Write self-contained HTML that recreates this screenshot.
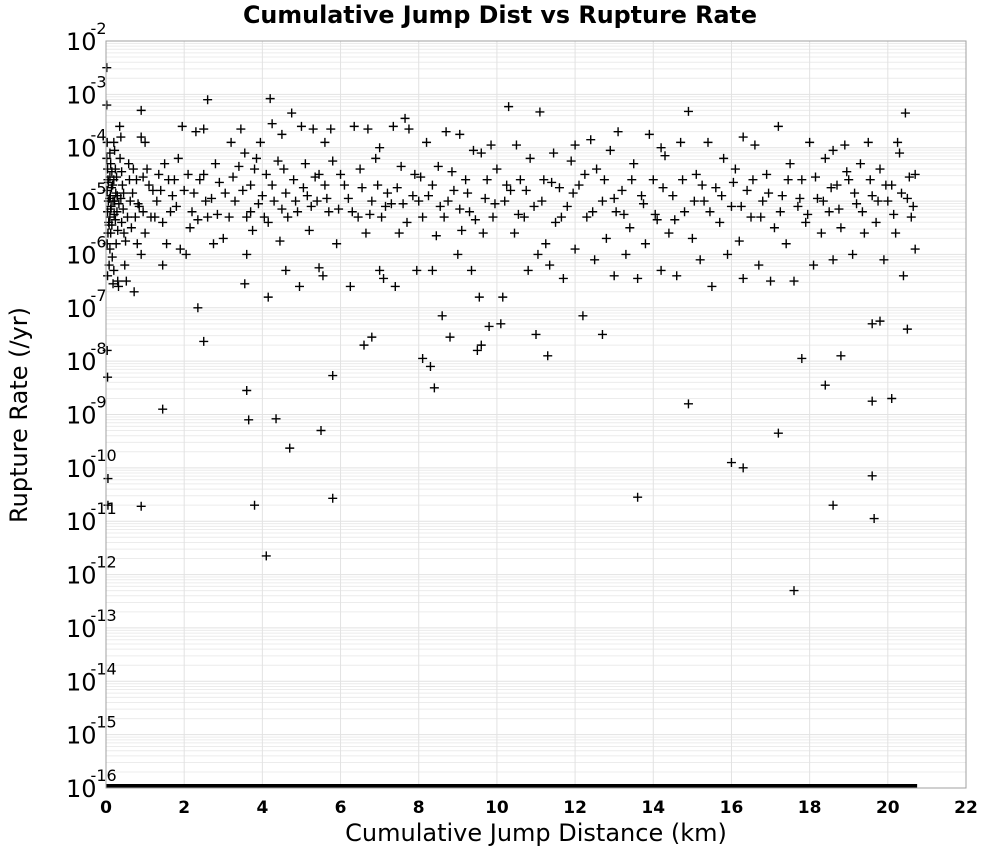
<!DOCTYPE html>
<html><head><meta charset="utf-8">
<style>
html,body{margin:0;padding:0;background:#fff;}
svg{display:block;font-family:"DejaVu Sans","Liberation Sans",sans-serif;}
</style></head>
<body>
<svg id="chart" width="1000" height="850" viewBox="0 0 1000 850">
<text x="500" y="23" text-anchor="middle" font-size="23.8" font-weight="bold">Cumulative Jump Dist vs Rupture Rate</text>
<g id="grid"></g>
<g id="marks"></g>
<rect x="106" y="41" width="860" height="747" fill="none" stroke="#a0a0a0" stroke-width="1"/>
<g id="axes"></g>
<text x="536" y="841" text-anchor="middle" font-size="24">Cumulative Jump Distance (km)</text>
<text x="0" y="0" transform="translate(27,415) rotate(-90)" text-anchor="middle" font-size="24">Rupture Rate (/yr)</text>
</svg>
<script>
const xTicks=[0,2,4,6,8,10,12,14,16,18,20,22];
const yExps=[-2,-3,-4,-5,-6,-7,-8,-9,-10,-11,-12,-13,-14,-15,-16];
const floorRange=[0,20.75];
const floorLog=-16;
// [cumulative jump distance km, log10 rupture rate]
const points=[
[0.02,-2.5],[0.02,-3.2],[0.03,-3.9],[0.02,-4.2],[0.04,-4.4],[0.05,-4.6],[0.03,-4.8],[0.06,-5.0],[0.04,-5.2],[0.07,-5.4],[0.05,-5.6],[0.03,-5.8],[0.08,-6.2],[0.04,-6.4],[0.03,-7.8],[0.04,-8.3],[0.05,-10.2],[0.05,-10.7],
[0.1,-4.1],[0.12,-4.3],[0.1,-4.55],[0.14,-4.75],[0.11,-4.9],[0.13,-5.1],[0.1,-5.3],[0.15,-5.45],[0.12,-5.6],[0.1,-5.9],[0.16,-6.05],[0.2,-6.3],[0.18,-6.55],
[0.2,-3.9],[0.22,-4.05],[0.24,-4.4],[0.2,-4.6],[0.25,-4.85],[0.22,-5.0],[0.28,-5.2],[0.24,-5.35],[0.3,-5.55],[0.26,-5.8],[0.3,-6.5],[0.32,-6.6],
[0.35,-3.6],[0.38,-3.8],[0.36,-4.2],[0.4,-4.45],[0.42,-4.7],[0.38,-4.95],[0.44,-5.15],[0.4,-5.4],[0.46,-5.6],[0.5,-5.75],[0.48,-6.2],[0.52,-6.5],
[0.6,-4.6],[0.62,-5.0],[0.7,-4.4],[0.75,-5.3],[0.8,-5.8],[0.72,-6.7],[0.9,-3.3],[0.9,-3.8],[0.95,-4.55],[0.85,-5.1],[1.0,-5.6],[0.9,-6.0],[0.9,-10.72],
[1.1,-4.7],[1.2,-4.8],[1.25,-5.3],[1.4,-4.8],[1.45,-5.4],[1.5,-4.3],[1.6,-4.6],[1.55,-5.8],[1.45,-6.2],[1.45,-8.9],[1.7,-4.9],[1.8,-5.1],[1.85,-4.2],[1.9,-5.9],[1.95,-3.6],[2.0,-4.8],[2.05,-6.0],
[2.2,-5.2],[2.25,-4.85],[2.35,-5.35],[2.3,-3.7],[2.35,-7.0],[2.5,-7.63],[2.6,-3.1],[2.5,-3.65],[2.5,-4.5],[2.6,-5.3],[2.7,-4.95],[2.75,-5.8],[2.8,-4.3],[2.9,-4.65],[3.0,-5.7],
[3.3,-5.0],[3.4,-4.35],[3.45,-3.65],[3.55,-4.1],[3.6,-5.3],[3.6,-6.0],[3.55,-6.55],[3.6,-8.55],[3.65,-9.1],[3.8,-10.7],[3.7,-4.7],[3.75,-5.55],[3.85,-4.2],[3.9,-5.05],[3.95,-3.9],
[4.1,-4.5],[4.1,-11.65],[4.15,-5.4],[4.15,-6.8],[4.2,-3.08],[4.25,-3.55],[4.3,-5.0],[4.35,-9.08],[4.4,-4.25],[4.45,-5.75],[4.5,-3.75],[4.6,-4.85],[4.6,-6.3],[4.65,-5.3],[4.7,-9.63],[4.75,-3.35],[4.8,-4.6],[4.9,-5.2],[4.95,-6.6],
[5.0,-3.6],[5.1,-4.3],[5.15,-4.9],[5.2,-5.55],[5.3,-3.65],[5.35,-4.55],[5.4,-5.0],[5.45,-6.25],[5.5,-9.3],[5.55,-6.4],[5.6,-4.7],[5.7,-5.2],[5.75,-3.65],[5.8,-4.25],[5.8,-8.27],[5.8,-10.57],[5.9,-5.8],[6.0,-4.5],
[6.2,-4.95],[6.25,-6.6],[6.35,-3.6],[6.45,-5.3],[6.5,-4.4],[6.6,-7.7],[6.65,-5.6],[6.7,-3.65],[6.8,-7.55],[6.8,-5.0],[6.9,-4.2],[7.0,-6.3],[7.05,-5.3],[7.1,-6.45],[7.2,-4.85],[7.3,-5.05],[7.35,-3.6],[7.4,-6.6],[7.5,-5.6],[7.55,-4.35],[7.65,-3.45],[7.7,-5.4],[7.75,-3.65],[7.9,-4.5],[7.95,-6.3],
[8.0,-5.0],[8.1,-7.95],[8.1,-5.3],[8.2,-3.9],[8.25,-4.9],[8.3,-8.1],[8.35,-6.3],[8.4,-8.5],[8.45,-5.65],[8.5,-4.35],[8.6,-7.15],[8.65,-5.3],[8.7,-3.7],[8.75,-5.0],[8.8,-7.55],[8.9,-4.8],[9.0,-6.0],[9.05,-3.75],[9.1,-5.55],
[9.2,-4.6],[9.3,-5.2],[9.35,-6.3],[9.4,-4.05],[9.5,-7.8],[9.55,-6.8],[9.6,-7.7],[9.65,-5.6],[9.7,-4.95],[9.8,-7.35],[9.85,-3.95],[9.9,-5.3],[10.0,-4.4],[10.1,-7.3],[10.15,-6.8],[10.2,-5.0],[10.3,-3.23],[10.35,-4.8],[10.45,-5.6],[10.5,-3.95],
[10.6,-4.6],[10.7,-5.3],[10.8,-6.3],[10.85,-4.2],[10.95,-5.1],[11.0,-7.5],[11.05,-6.0],[11.1,-3.33],[11.2,-4.6],[11.25,-5.8],[11.3,-7.9],[11.35,-6.2],[11.45,-4.1],[11.5,-5.4],[11.6,-4.75],[11.7,-6.45],[11.8,-5.1],[11.9,-4.25],[12.0,-5.9],
[12.1,-4.7],[12.2,-7.15],[12.3,-5.3],[12.4,-3.85],[12.5,-6.1],[12.55,-4.4],[12.7,-7.5],[12.7,-5.0],[12.8,-5.7],[12.9,-4.05],[13.0,-6.4],[13.05,-5.2],[13.1,-3.7],[13.2,-4.8],[13.3,-6.0],[13.4,-5.5],[13.5,-4.3],[13.6,-10.55],[13.6,-6.45],[13.7,-4.9],[13.8,-5.8],[13.9,-3.75],
[14.0,-4.6],[14.1,-5.35],[14.2,-6.3],[14.3,-4.15],[14.4,-5.6],[14.5,-4.9],[14.6,-6.4],[14.7,-3.9],[14.8,-5.2],[14.9,-3.32],[14.9,-8.8],[15.0,-5.7],[15.1,-4.5],[15.2,-6.1],[15.3,-5.0],[15.4,-3.9],[15.5,-6.6],[15.6,-4.75],[15.7,-5.4],[15.8,-4.2],[15.9,-6.0],
[16.0,-9.9],[16.0,-5.1],[16.1,-4.4],[16.2,-5.75],[16.3,-10.0],[16.3,-6.45],[16.4,-4.8],[16.5,-5.3],[16.6,-3.95],[16.7,-6.2],[16.8,-5.0],[16.9,-4.5],[17.0,-6.5],[17.1,-5.5],[17.2,-3.6],[17.2,-9.35],[17.3,-4.9],[17.4,-5.8],[17.5,-4.3],[17.6,-12.3],[17.6,-6.5],[17.7,-5.1],[17.8,-7.95],[17.8,-4.6],[17.9,-5.4],
[18.0,-3.9],[18.1,-6.2],[18.2,-4.95],[18.3,-5.6],[18.4,-8.45],[18.4,-4.2],[18.5,-5.2],[18.6,-10.7],[18.6,-6.1],[18.7,-4.7],[18.8,-7.9],[18.8,-5.5],[18.9,-3.95],[19.0,-4.6],[19.1,-6.0],[19.2,-5.05],[19.3,-4.3],[19.4,-5.6],[19.5,-3.9],
[19.6,-8.75],[19.6,-10.15],[19.65,-10.95],[19.6,-7.3],[19.6,-4.9],[19.7,-5.4],[19.8,-7.25],[19.8,-4.4],[19.9,-6.1],[20.0,-5.0],[20.1,-8.7],[20.1,-4.7],[20.2,-5.6],[20.3,-4.1],[20.4,-6.4],[20.45,-3.35],[20.5,-7.4],[20.5,-4.95],[20.6,-5.3],[20.7,-4.5],[20.7,-5.9]
];
// additional main-band points
const bandPoints=[
[0.06,-4.65],[0.09,-4.95],[0.12,-5.15],[0.08,-5.45],[0.15,-4.45],[0.18,-5.0],[0.21,-5.25],[0.17,-4.7],[0.27,-4.55],[0.33,-5.05],[0.29,-4.9],[0.45,-4.85],[0.55,-5.3],[0.58,-4.3],[0.65,-5.5],[0.68,-4.85],[0.78,-4.6],[0.82,-5.05],[0.95,-5.2],[1.05,-4.4],
[1.15,-5.3],[1.3,-5.0],[1.35,-4.5],[1.65,-5.2],[1.75,-4.6],[2.1,-4.5],[2.15,-5.5],[2.4,-4.6],[2.55,-5.0],[2.85,-5.25],[3.05,-4.85],[3.15,-5.3],[3.25,-4.55],[3.5,-4.8],[3.7,-5.2],[3.8,-4.4],[4.0,-4.9],[4.05,-5.3],[4.25,-4.7],[4.5,-5.15],
[4.55,-4.4],[4.85,-5.0],[5.05,-4.75],[5.25,-5.1],[5.45,-4.5],[5.65,-4.95],[5.95,-5.15],[6.1,-4.7],[6.3,-5.2],[6.55,-4.75],[6.75,-5.25],[6.95,-4.7],[7.15,-5.1],[7.45,-4.75],[7.6,-5.05],[7.85,-4.9],[8.05,-4.55],[8.35,-4.7],[8.55,-5.1],[8.85,-4.45],
[9.05,-5.15],[9.25,-4.85],[9.45,-5.35],[9.75,-4.6],[9.95,-5.05],[10.25,-4.7],[10.55,-5.25],[10.75,-4.8],[11.15,-5.0],[11.4,-4.65],[11.65,-5.3],[11.95,-4.85],[12.25,-4.5],[12.45,-5.2],[12.75,-4.6],[13.0,-4.95],[13.25,-5.25],[13.45,-4.6],[13.75,-5.05],[14.05,-5.25],
[14.25,-4.75],[14.55,-5.35],[14.75,-4.6],[15.05,-5.0],[15.25,-4.7],[15.45,-5.2],[15.75,-4.9],[16.05,-4.65],[16.25,-5.1],[16.55,-4.6],[16.75,-5.3],[16.95,-4.85],[17.25,-5.2],[17.45,-4.6],[17.75,-4.95],[17.95,-5.25],[18.15,-4.55],[18.35,-5.0],[18.55,-4.75],[18.75,-5.15],
[18.95,-4.45],[19.15,-4.85],[19.35,-5.2],[19.55,-4.6],[19.75,-5.0],[19.95,-4.7],[20.15,-5.25],[20.35,-4.85],[20.55,-4.55],[20.65,-5.1],[1.0,-3.9],[3.2,-3.9],[5.6,-3.9],[7.0,-4.0],[9.6,-4.1],[12.0,-3.95],[14.2,-4.0],[16.3,-3.8],[18.6,-4.05],[20.25,-3.9]
];
const NS='http://www.w3.org/2000/svg';
const L=106,R=966,T=41,B=788,XMAX=22,YTOP=-2,YBOT=-16;
function sx(v){return L+v/XMAX*(R-L);}
function sy(e){return T+(YTOP-e)/(YTOP-YBOT)*(B-T);}
function mk(tag,attrs,parent){const el=document.createElementNS(NS,tag);for(const k in attrs)el.setAttribute(k,attrs[k]);parent.appendChild(el);return el;}
const grid=document.getElementById('grid'),marks=document.getElementById('marks'),axes=document.getElementById('axes');
for(let d=YBOT;d<YTOP;d++){
  for(let m=1;m<10;m++){
    const y=sy(d+Math.log10(m));
    const gl=mk('line',{x1:L,x2:R,y1:y,y2:y,stroke:m===1?'#e2e2e2':'#ececec','stroke-width':1},grid);
    
    
  }
}
xTicks.forEach(v=>{
  const x=sx(v);
  const gl=mk('line',{x1:x,x2:x,y1:T,y2:B,stroke:'#e2e2e2','stroke-width':1},grid);
  
  
  const t=mk('text',{x:x,y:B+25,'text-anchor':'middle','font-size':17,'font-weight':'600'},axes);
  t.textContent=v;
  
  
});
yExps.forEach(e=>{
  const y=sy(e);
  const t=mk('text',{x:66,y:y+9,'text-anchor':'start','font-size':24},axes);
  
  
  const b=mk('tspan',{},t);b.textContent='10';
  const s=mk('tspan',{dy:-16,'font-size':16,dx:-6},t);s.textContent=String(e);
});
const fl=mk('line',{x1:sx(floorRange[0]),x2:sx(floorRange[1]),y1:sy(floorLog)-2,y2:sy(floorLog)-2,stroke:'#000','stroke-width':4},marks);


points.concat(bandPoints).forEach(p=>{
  const x=sx(p[0]),y=sy(p[1]);
  const g=mk('path',{d:`M${x-4.5},${y}H${x+4.5}M${x},${y-4.5}V${y+4.5}`,stroke:'#000','stroke-width':1.4,fill:'none'},marks);
  
  
});
</script>
</body></html>
